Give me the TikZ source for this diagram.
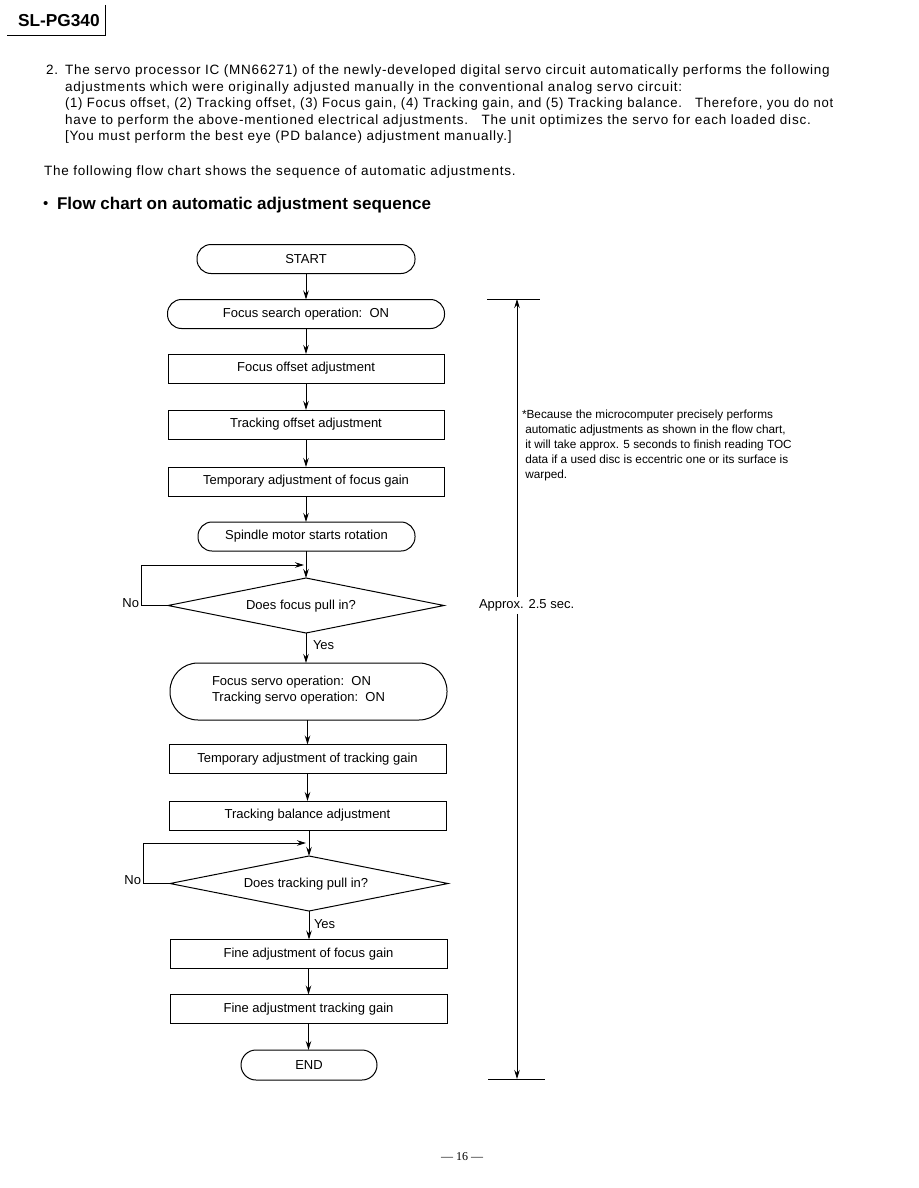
\documentclass[tikz,border=0pt]{standalone}
\usepackage{fontspec}
\usepackage{graphicx}
\setmainfont{Liberation Sans}
\newfontfamily\bodyfont[LetterSpace=5.8]{Liberation Sans}
\newfontfamily\pgfont{Liberation Serif}
\usetikzlibrary{arrows.meta,shapes.geometric}
\begin{document}
\begin{tikzpicture}[x=1pt,y=-1pt,
  every node/.style={inner sep=0pt,outer sep=0pt},
  fc/.style={font=\fontsize{13}{15}\selectfont},
  proc/.style={draw,line width=1pt,fc,minimum width=276pt,minimum height=29pt},
  term/.style={draw,line width=1pt,fc,rounded corners=14pt,minimum height=29pt},
  dec/.style={draw,diamond,line width=1pt,fc,minimum width=276pt,minimum height=55pt},
  arr/.style={line width=1pt,-{Stealth[length=9pt,width=5.5pt]}},
  ln/.style={line width=1pt},
  body/.style={anchor=base west,font=\bodyfont\fontsize{13.5}{15}\selectfont},
  lbl/.style={fc}]
\useasboundingbox (0,0) rectangle (918,1188);
% header
\node[anchor=base west,font=\bfseries\fontsize{17.3}{18}\selectfont] (hd) at (18,26.5) {SL-PG340};
\coordinate (hd1) at (105,5);
\coordinate (hd2) at (105,36);
\coordinate (hd3) at (7,36);
\draw[ln] (hd1) -- (hd2) -- (hd3);
% body text
\node[body] (b0) at (46,75) {2.};
\node[body] (b1) at (65,75) {The servo processor IC (MN66271) of the newly-developed digital servo circuit automatically performs the following};
\node[body] (b2) at (65,91.5) {adjustments which were originally adjusted manually in the conventional analog servo circuit:};
\node[body] (b3) at (65,108) {\scalebox{0.97}[1]{(1) Focus offset, (2) Tracking offset, (3) Focus gain, (4) Tracking gain, and (5) Tracking balance.\quad Therefore, you do not}};
\node[body] (b4) at (65,124.5) {have to perform the above-mentioned electrical adjustments.\quad The unit optimizes the servo for each loaded disc.};
\node[body] (b5) at (65,141) {[You must perform the best eye (PD balance) adjustment manually.]};
\node[body] (b6) at (44,175) {The following flow chart shows the sequence of automatic adjustments.};
\node[anchor=base west,font=\fontsize{15}{18}\selectfont] (bul) at (43,208) {\textbullet};
\node[anchor=base west,font=\bfseries\fontsize{17}{18}\selectfont] (h2) at (57,209) {Flow chart on automatic adjustment sequence};
% flow chart
\node[term,minimum width=218pt] (start) at (306,259) {START};
\node[term,minimum width=277pt] (fs) at (306,314) {Focus search operation:\ \ ON};
\node[proc] (fo) at (306,368.5) {Focus offset adjustment};
\node[proc] (to) at (306,424.5) {Tracking offset adjustment};
\node[proc] (tf) at (306,481.5) {Temporary adjustment of focus gain};
\node[term,minimum width=217pt] (sp) at (306.5,536.5) {Spindle motor starts rotation};
\node[dec] (d1) at (306,605.5) {};
\node[fc] (d1t) at (301,606) {Does focus pull in?};
\node[term,minimum width=277pt,minimum height=57pt,rounded corners=28pt] (sv) at (308.5,691.5) {};
\node[fc,anchor=west,align=left,font=\fontsize{13}{16.5}\selectfont] (svt) at (212,690) {Focus servo operation:\ \ ON\\Tracking servo operation:\ \ ON};
\node[proc,minimum width=277pt] (tt) at (307.5,759) {Temporary adjustment of tracking gain};
\node[proc,minimum width=277pt] (tb) at (307.5,815.5) {Tracking balance adjustment};
\node[dec,minimum width=278pt] (d2) at (309,883.5) {};
\node[fc] (d2t) at (306,884) {Does tracking pull in?};
\node[proc,minimum width=277pt] (ff) at (308.5,954) {Fine adjustment of focus gain};
\node[proc,minimum width=277pt] (ft) at (308.5,1009) {Fine adjustment tracking gain};
\node[term,minimum width=136pt,minimum height=30pt,rounded corners=15pt] (end) at (309,1065) {END};
% connectors
\draw[arr] (start.south) -- (start.south |- fs.north);
\draw[arr] (fs.south) -- (fs.south |- fo.north);
\draw[arr] (fo.south) -- (fo.south |- to.north);
\draw[arr] (to.south) -- (to.south |- tf.north);
\draw[arr] (tf.south) -- (tf.south |- sp.north);
\draw[arr] (sp.south -| d1.north) -- (d1.north);
\draw[arr] (d1.south) -- (d1.south |- sv.north);
\draw[arr] (sv.south -| tt.north) -- (tt.north);
\draw[arr] (tt.south) -- (tt.south |- tb.north);
\draw[arr] (tb.south -| d2.north) -- (d2.north);
\draw[arr] (d2.south) -- (d2.south |- ff.north);
\draw[arr] (ff.south) -- (ff.south |- ft.north);
\draw[arr] (ft.south) -- (ft.south |- end.north);
\coordinate (l1) at (304,565);
\coordinate (l2) at (306,843);
\draw[arr] (d1.west) -- ++(-27,0) |- (l1);
\draw[arr] (d2.west) -- ++(-27,0) |- (l2);
\node[lbl,anchor=east] (no1) at (139,603) {No};
\node[lbl,anchor=east] (no2) at (141,880) {No};
\node[lbl,anchor=west] (y1) at (313,645) {Yes};
\node[lbl,anchor=west] (y2) at (314,924) {Yes};
% dimension
\coordinate (dt) at (517,299);
\coordinate (db) at (517,1079);
\coordinate (tl1) at (487,299);
\coordinate (tl2) at (540,299);
\coordinate (bl1) at (488,1079);
\coordinate (bl2) at (545,1079);
\draw[ln] (tl1) -- (tl2);
\draw[ln] (bl1) -- (bl2);
\node[fc,anchor=west] (ap) at (479,605) {Approx. 2.5 sec.};
\draw[arr] (ap.north -| dt) ++(0,-2) -- (dt);
\draw[arr] (ap.south -| db) ++(0,3) -- (db);
% note
\node[anchor=north west,align=left,font=\fontsize{11.8}{15}\selectfont] (note) at (522,410) {*Because the microcomputer precisely performs\\
\ automatic adjustments as shown in the flow chart,\\
\ it will take approx. 5 seconds to finish reading TOC\\
\ data if a used disc is eccentric one or its surface is\\
\ warped.};
% page number
\node[font=\pgfont\fontsize{12}{14}\selectfont] (pg) at (462,1157) {— 16 —};
\end{tikzpicture}
\end{document}
